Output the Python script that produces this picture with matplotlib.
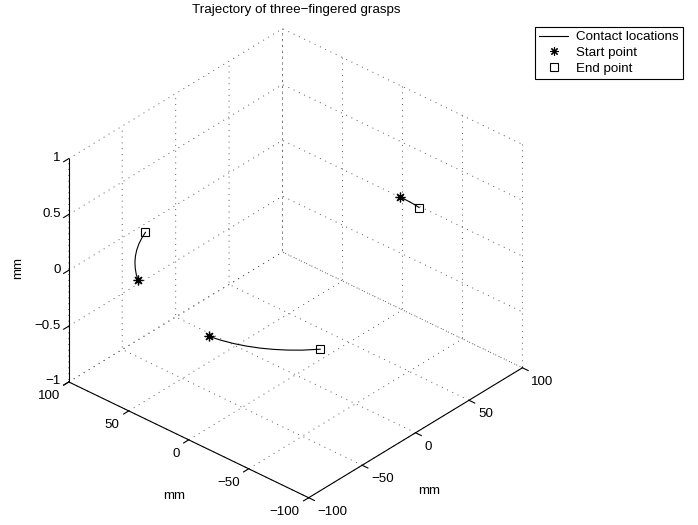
import matplotlib
matplotlib.use('Agg')
import matplotlib.pyplot as plt
from matplotlib.lines import Line2D
from matplotlib.transforms import IdentityTransform
from mpl_toolkits.mplot3d import proj3d

plt.rcParams['font.family'] = ['Liberation Sans', 'DejaVu Sans']
plt.rcParams['font.size'] = 9.6

# contact locations on the object boundary (mm); the grasp lies in the plane z = 0
finger1_x = [-80.0, -75.5, -70.7, -65.6, -60.2, -54.5, -48.5, -42.3, -35.7]
finger1_y = [60.0, 65.6, 70.7, 75.5, 79.9, 83.9, 87.5, 90.6, 93.4]
finger2_x = [-98.7, -97.0, -94.6, -91.4, -87.5, -82.9, -77.7, -71.9, -63.6]
finger2_y = [-15.8, -24.2, -32.6, -40.7, -48.5, -55.9, -62.9, -69.5, -77.2]
finger3_x = [100.0, 100.0, 99.8, 99.4, 98.9]
finger3_y = [1.7, -2.6, -7.0, -11.3, -14.8]
contact_z = 0.0

xy_ticks = [-100, -50, 0, 50, 100]
xy_ticklabels = ['\u2212100', '\u221250', '0', '50', '100']
z_ticks = [-1, -0.5, 0, 0.5, 1]
z_ticklabels = ['\u22121', '\u22120.5', '0', '0.5', '1']

W, H = 698, 525
fig = plt.figure(figsize=(W / 100, H / 100), dpi=100)

# square 3d axes, sized so the box spans the plot area
cx, cy, s = 288.7, 270.1, 511
ax = fig.add_axes([(cx - s / 2) / W, (H - cy - s / 2) / H, s / W, s / H],
                  projection='3d', proj_type='ortho')
ax.view_init(elev=32.8, azim=-138.3)
ax.set_box_aspect((1, 1, 0.827))

for xs, ys in [(finger1_x, finger1_y), (finger2_x, finger2_y), (finger3_x, finger3_y)]:
    ax.plot(xs, ys, zs=contact_z, color='k', lw=0.8)
    ax.plot(xs[:1], ys[:1], zs=contact_z, ls='none', marker=(8, 2, 0),
            ms=7, color='k', mew=0.9)
    ax.plot(xs[-1:], ys[-1:], zs=contact_z, ls='none', marker='s',
            ms=6, mfc='none', mec='k', mew=0.8)

ax.set_xlim(-100, 100)
ax.set_ylim(-100, 100)
ax.set_zlim(-1, 1)
ax.set_xticks(xy_ticks)
ax.set_yticks(xy_ticks)
ax.set_zticks(z_ticks)
# tick labels are placed by hand below, matlab style
ax.set_xticklabels([])
ax.set_yticklabels([])
ax.set_zticklabels([])

for axis in (ax.xaxis, ax.yaxis, ax.zaxis):
    axis.pane.fill = False
    axis.pane.set_edgecolor('none')
    axis.line.set_color('k')
    axis.line.set_linewidth(0.8)
    axis._axinfo['grid'].update(color='0.35', linewidth=0.7, linestyle=(0, (1, 5)))
    axis._axinfo['tick'].update(inward_factor=0.3, outward_factor=0.0)

fig.canvas.draw()
M = ax.get_proj()


def to_pixels(x, y, z):
    px, py, _ = proj3d.proj_transform(x, y, z, M)
    return ax.transData.transform((float(px), float(py)))


# x runs along the right front edge, y along the left one, z up the left corner
for t, lab in zip(xy_ticks, xy_ticklabels):
    px, py = to_pixels(t, -100, -1)
    fig.text(px + 9, py - 14, lab, ha='left', va='center', transform=IdentityTransform())
    px, py = to_pixels(-100, t, -1)
    fig.text(px - 9, py - 14.5, lab, ha='right', va='center', transform=IdentityTransform())
for t, lab in zip(z_ticks, z_ticklabels):
    px, py = to_pixels(-100, 100, t)
    fig.text(px - 8, py + 0.5, lab, ha='right', va='center', transform=IdentityTransform())

fig.text(296 / W, 1 - 10 / H, 'Trajectory of three\u2212fingered grasps',
         ha='center', va='center')
fig.text(18 / W, 1 - 268 / H, 'mm', rotation=90, ha='center', va='center')
fig.text(174 / W, 1 - 496 / H, 'mm', ha='center', va='center')
fig.text(429 / W, 1 - 491 / H, 'mm', ha='center', va='center')

handles = [
    Line2D([], [], color='k', lw=0.8),
    Line2D([], [], ls='none', marker=(8, 2, 0), ms=6, color='k', mew=0.8),
    Line2D([], [], ls='none', marker='s', ms=5.5, mfc='none', mec='k', mew=0.8),
]
labels = ['Contact locations', 'Start point', 'End point']
leg = fig.legend(handles, labels, loc='upper right',
                 bbox_to_anchor=(683 / W, 1 - 27 / H), frameon=True,
                 fancybox=False, edgecolor='k', framealpha=1,
                 borderaxespad=0, borderpad=0.3, labelspacing=0.25,
                 handlelength=2.2, handletextpad=0.6)
leg.get_frame().set_linewidth(0.8)

fig.savefig('out.png', dpi=100)
